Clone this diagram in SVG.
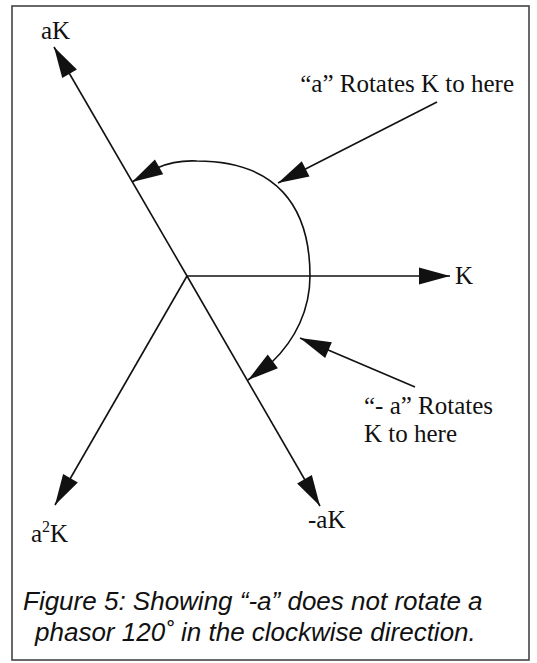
<svg xmlns="http://www.w3.org/2000/svg" width="537" height="663" viewBox="0 0 537 663">
<style>
.ln{stroke:#111;stroke-width:1.6;fill:none}
.arw{marker-end:url(#ah)}
.lbl{font-family:"Liberation Serif","Times New Roman",serif;font-size:25px;fill:#111}
.cap{font-family:"Liberation Sans",Arial,sans-serif;font-style:italic;font-size:26px;fill:#111}
</style>
<defs>
<marker id="ah" markerUnits="userSpaceOnUse" markerWidth="32" markerHeight="18" refX="31" refY="9" orient="auto-start-reverse" overflow="visible">
<path d="M0,0.5 L31,9 L0,17.5 Z" fill="#111"/>
</marker>
</defs>
<rect x="12" y="6" width="517" height="654" fill="#fff" stroke="#444" stroke-width="1.6"/>
<g id="connectors">
<line class="ln arw" x1="187" y1="276" x2="54" y2="47"/>
<line class="ln arw" x1="187" y1="276" x2="450" y2="276"/>
<line class="ln arw" x1="187" y1="276" x2="55" y2="505"/>
<line class="ln arw" x1="187" y1="276" x2="320" y2="506"/>
<path class="ln" marker-start="url(#ah)" marker-end="url(#ah)" d="M132,182 L157,168 Q175,160 197,161 C275,161 310,205 310,276 C310,310 295,340 272,362 L248,380"/>
<line class="ln arw" x1="437" y1="102" x2="278" y2="183"/>
<line class="ln arw" x1="415" y1="387" x2="300" y2="338"/>
</g>
<g id="label-aK"><text class="lbl" x="41" y="39">aK</text></g>
<g id="label-K"><text class="lbl" x="455" y="284">K</text></g>
<g id="label-a2K"><text class="lbl" x="31" y="542">a<tspan font-size="16" dy="-10">2</tspan><tspan dy="10">K</tspan></text></g>
<g id="label-minus-aK"><text class="lbl" x="308" y="528">-aK</text></g>
<g id="note-a"><text class="lbl" x="514" y="92" text-anchor="end">“a” Rotates K to here</text></g>
<g id="note-minus-a"><text class="lbl" x="364" y="414">“- a” Rotates</text><text class="lbl" x="364" y="442">K to here</text></g>
<g id="caption"><text class="cap" x="23" y="610">Figure 5: Showing “-a” does not rotate a</text><text class="cap" x="35" y="641">phasor 120˚ in the clockwise direction.</text></g>
</svg>
